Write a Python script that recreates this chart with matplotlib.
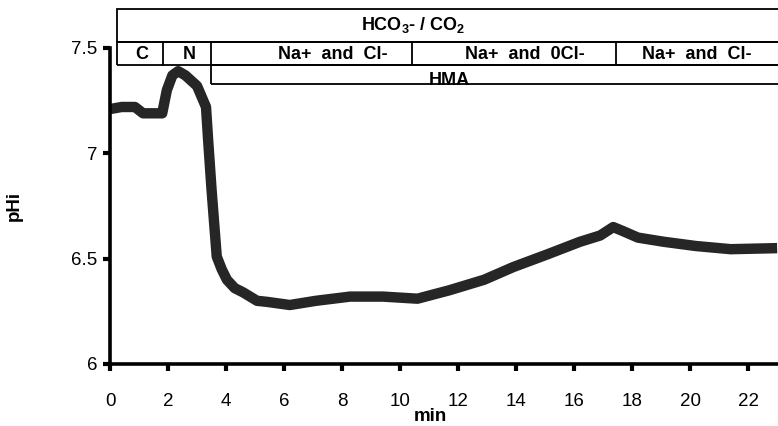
import matplotlib
matplotlib.use('Agg')
import matplotlib.pyplot as plt
from matplotlib.patches import Rectangle

# trace (min, pHi)
time_min = [0, 0.4, 0.86, 1.14, 1.5, 1.8, 1.96, 2.15, 2.35, 2.6, 3.0, 3.31,
            3.38, 3.5, 3.59, 3.68, 3.85, 4.03, 4.3, 4.59, 5.07, 5.41, 6.2,
            7.1, 8.28, 9.4, 10.6, 11.7, 12.9, 13.9, 15.07, 16.2, 16.9, 17.35,
            17.7, 18.2, 19.1, 20.2, 21.4, 23.0]
phi = [7.21, 7.22, 7.22, 7.19, 7.19, 7.19, 7.30, 7.37, 7.39, 7.37, 7.32, 7.22,
       7.07, 6.83, 6.67, 6.51, 6.45, 6.40, 6.36, 6.34, 6.30, 6.295, 6.28,
       6.30, 6.32, 6.32, 6.31, 6.35, 6.40, 6.46, 6.52, 6.58, 6.61, 6.65,
       6.63, 6.60, 6.58, 6.56, 6.545, 6.55]

x_ticks = [0, 2, 4, 6, 8, 10, 12, 14, 16, 18, 20, 22]
y_ticks = [6, 6.5, 7, 7.5]
y_tick_labels = ['6', '6.5', '7', '7.5']

# solution phases (start times in min) and their labels
phase_edges = [0.24, 1.83, 3.48, 10.4, 17.45]
phase_labels = ['C', 'N', 'Na+  and  Cl-', 'Na+  and  0Cl-', 'Na+  and  Cl-']
phase_label_x = [1.1, 2.72, 7.69, 14.31, 20.24]
hma_start = 3.48

plt.rcParams['font.family'] = ['Liberation Sans', 'DejaVu Sans']
plt.rcParams['mathtext.fontset'] = 'custom'
plt.rcParams['mathtext.rm'] = 'Liberation Sans:bold'
plt.rcParams['mathtext.bf'] = 'Liberation Sans:bold'

X_MAX = 23.03
BOX_END = 25
ROW_TOP = [7.686, 7.529, 7.419, 7.329]  # top box, phase row, HMA row edges
BOX_LW = 1.3

fig = plt.figure(figsize=(7.78, 4.26), dpi=100)
ax = fig.add_axes([110 / 778, 62 / 426, 668 / 778, 316 / 426])

ax.plot(time_min, phi, color='#262626', lw=7.5, solid_joinstyle='round',
        solid_capstyle='butt')

ax.set_xlim(0, X_MAX)
ax.set_ylim(6, 7.5)
ax.set_xticks(x_ticks)
ax.set_yticks(y_ticks)
ax.set_yticklabels(y_tick_labels)
ax.spines['top'].set_visible(False)
ax.spines['right'].set_visible(False)
ax.spines['left'].set_linewidth(2.6)
ax.spines['bottom'].set_linewidth(2.6)
ax.tick_params(axis='both', direction='out', length=5, width=3,
               labelsize=13.5)
ax.tick_params(axis='x', pad=16)
ax.tick_params(axis='y', pad=4)

ax.set_xlabel('min', fontsize=13.5, fontweight='bold')
ax.xaxis.set_label_coords(0.479, -0.138)
ax.set_ylabel('pHi', fontsize=13.5, fontweight='bold')
ax.yaxis.set_label_coords(-0.13, 0.5)

# solution boxes above the trace
x0 = phase_edges[0]
ax.add_patch(Rectangle((x0, ROW_TOP[1]), BOX_END - x0, ROW_TOP[0] - ROW_TOP[1],
                       fill=False, lw=BOX_LW, ec='black', clip_on=False))
ax.add_patch(Rectangle((x0, ROW_TOP[2]), BOX_END - x0, ROW_TOP[1] - ROW_TOP[2],
                       fill=False, lw=BOX_LW, ec='black', clip_on=False))
for e in phase_edges[1:]:
    ax.plot([e, e], [ROW_TOP[2], ROW_TOP[1]], color='black', lw=BOX_LW,
            clip_on=False)
hma_box = Rectangle((hma_start, ROW_TOP[3]), BOX_END - hma_start,
                    ROW_TOP[2] - ROW_TOP[3], fill=False, lw=BOX_LW,
                    ec='black', clip_on=False)
ax.add_patch(hma_box)

ax.text(10.45, (ROW_TOP[0] + ROW_TOP[1]) / 2, r'HCO$_3$- / CO$_2$',
        fontsize=13, fontweight='bold', ha='center', va='center')
for lab, xl in zip(phase_labels, phase_label_x):
    ax.text(xl, (ROW_TOP[1] + ROW_TOP[2]) / 2 - 0.004, lab, fontsize=13,
            fontweight='bold', ha='center', va='center')
hma = ax.text(11.69, 7.386, 'HMA', fontsize=13, fontweight='bold',
              ha='center', va='top')
hma.set_clip_path(hma_box)

fig.savefig('out.png', dpi=100)
